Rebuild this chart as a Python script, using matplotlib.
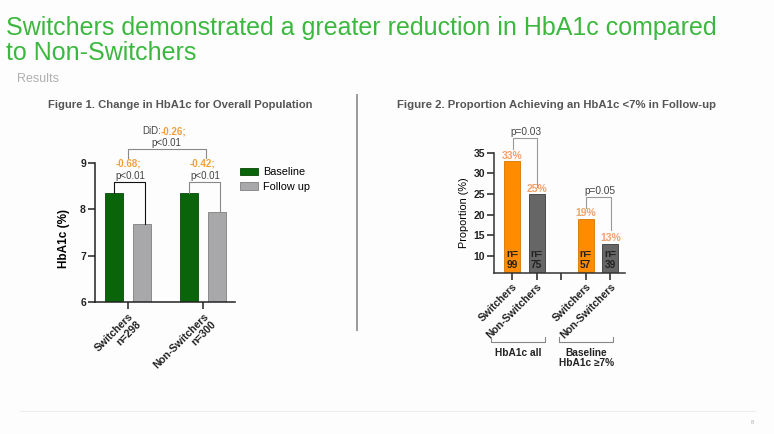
import matplotlib
matplotlib.use("Agg")
import matplotlib.pyplot as plt
from matplotlib.patches import Patch
from matplotlib.lines import Line2D
import matplotlib.transforms as mtrans

plt.rcParams['font.family'] = ['Liberation Sans', 'DejaVu Sans']

# ---------------- data ----------------
title_lines = ["Switchers demonstrated a greater reduction in HbA1c compared",
               "to Non-Switchers"]
subtitle = "Results"

fig1_title = "Figure 1. Change in HbA1c for Overall Population"
groups1 = ["Switchers\nn=298", "Non-Switchers\nn=300"]
baseline = [8.35, 8.35]
followup = [7.68, 7.94]
change_txt = ["-0.68;", "-0.42;"]
change_p = ["p<0.01", "p<0.01"]
did_txt = "-0.26;"
did_p = "p<0.01"
series1 = ["Baseline", "Follow up"]
yticks1 = [6, 7, 8, 9]

fig2_title = "Figure 2. Proportion Achieving an HbA1c <7% in Follow-up"
xlabels2 = ["Switchers", "Non-Switchers", "", "Switchers", "Non-Switchers"]
bar_pos2 = [0, 1, 3, 4]
prop = [33, 25, 19, 13]
pct_txt = ["33%", "25%", "19%", "13%"]
n_txt = ["99", "75", "57", "39"]
pvals2 = ["p=0.03", "p=0.05"]
group2 = ["HbA1c all", "Baseline\nHbA1c \u22657%"]
yticks2 = [10, 15, 20, 25, 30, 35]

# ---------------- style ----------------
GREEN_T = '#3cb83f'
GREEN = '#0a650a'
LGRAY = '#a8a8aa'
ORANGE = '#ff8c00'
DGRAY = '#666666'
ORTXT = '#f5a035'
PCTTXT = '#f2a26e'
TXT = '#444444'

W, H = 774, 434
fig = plt.figure(figsize=(W/100, H/100), dpi=100)
fig.patch.set_facecolor('#fdfdfe')

def fx(px): return px / W
def fy(py): return 1 - py / H

# main titles
t1 = fig.text(fx(6), fy(34.5), title_lines[0], fontsize=18, color=GREEN_T, va='baseline')
t2 = fig.text(fx(6), fy(60.5), title_lines[1], fontsize=18, color=GREEN_T, va='baseline')
fig.canvas.draw()
w = t1.get_window_extent().width
fs = 18 * 712 / w
t1.set_fontsize(fs); t2.set_fontsize(fs)
fig.text(fx(17), fy(81.5), subtitle, fontsize=9, color='#b0b0b0', va='baseline')

ft1 = fig.text(fx(180), fy(105), fig1_title, fontsize=7.3, fontweight='bold',
               color='#555555', ha='center', va='center')
ft2 = fig.text(fx(556.5), fy(105), fig2_title, fontsize=7.3, fontweight='bold',
               color='#555555', ha='center', va='center')
fig.canvas.draw()
ft1.set_fontsize(7.3 * 264 / ft1.get_window_extent().width)
ft2.set_fontsize(7.3 * 317 / ft2.get_window_extent().width)

# divider and footer
fig.add_artist(Line2D([fx(357), fx(357)], [fy(95), fy(330)], color='#9a9a9a', lw=1.4))
fig.add_artist(Line2D([fx(20), fx(755)], [fy(411), fy(411)], color='#ececf0', lw=0.8))
fig.text(fx(752), fy(423), "8", fontsize=4, color='#aaaaaa', ha='center', va='center')

# ---------------- Figure 1 ----------------
ax1 = fig.add_axes([fx(95), fy(302), 140 / W, 139 / H])
ax1.set_facecolor('none')
x1 = list(range(len(groups1)))
bw = 0.24
off = 0.187
ax1.bar([x - off for x in x1], baseline, width=bw, color=GREEN,
        edgecolor='#064806', linewidth=0.6, label=series1[0])
ax1.bar([x + off for x in x1], followup, width=bw, color=LGRAY,
        edgecolor='#7f7f7f', linewidth=0.6, label=series1[1])
ax1.set_ylim(6, 9)
ax1.set_xlim(-0.44, 1.427)
ax1.set_yticks(yticks1)
ax1.set_yticklabels([str(v) for v in yticks1], fontsize=7.5, fontweight='bold')
ax1.set_xticks(x1)
ax1.set_xticklabels(groups1, rotation=45, ha='right', rotation_mode='anchor',
                    fontsize=7.6, fontweight='bold', multialignment='right')
ax1.set_ylabel("HbA1c (%)", fontsize=8.5, fontweight='bold', labelpad=5)
ax1.yaxis.set_label_coords(-0.18, 0.46)
for s in ['top', 'right']:
    ax1.spines[s].set_visible(False)
for s in ['left', 'bottom']:
    ax1.spines[s].set_linewidth(1.1)
    ax1.spines[s].set_color('#222222')
ax1.tick_params(axis='both', length=5, width=1.1, pad=1.5, colors='#222222')

# brackets for change within group
br_col = ['#111111', '#888888']
for i, x in enumerate(x1):
    yb = 8.60
    xl = x - off
    xr = x + off + 0.04
    ax1.plot([xl, xl, xr, xr], [baseline[i] + 0.01, yb, yb, followup[i]],
             color=br_col[i], lw=0.8, clip_on=False)
    ax1.text(x, 8.99, change_txt[i], fontsize=7, fontweight='bold',
             color=ORTXT, ha='center', va='center', clip_on=False)
    ax1.text(x + 0.03, 8.72, change_p[i], fontsize=7, color=TXT,
             ha='center', va='center', clip_on=False)
# DiD bracket
yd = 9.30
ax1.plot([x1[0], x1[0], x1[1] + 0.04, x1[1] + 0.04], [9.10, yd, yd, 9.10],
         color='#888888', lw=0.8, clip_on=False)
ax1.text(0.44, 9.69, "DiD:", fontsize=7, color=TXT, ha='right', va='center', clip_on=False)
ax1.text(0.44, 9.69, did_txt, fontsize=7, fontweight='bold', color=ORTXT,
         ha='left', va='center', clip_on=False)
ax1.text(0.515, 9.44, did_p, fontsize=7, color=TXT, ha='center', va='center', clip_on=False)

handles = [Patch(facecolor=GREEN, edgecolor='#064806', linewidth=0.6),
           Patch(facecolor=LGRAY, edgecolor='#7f7f7f', linewidth=0.6)]
fig.legend(handles, series1, loc='upper left', bbox_to_anchor=(fx(237), fy(164)),
           frameon=False, fontsize=7.8, handlelength=1.6, handleheight=0.75,
           handletextpad=0.5, labelspacing=0.45, borderaxespad=0, borderpad=0.3)

# ---------------- Figure 2 ----------------
ax2 = fig.add_axes([fx(494), fy(272.6), 131 / W, (272.6 - 152.7) / H])
ax2.set_facecolor('none')
cols2 = [ORANGE, DGRAY, ORANGE, DGRAY]
edges2 = ['#d87400', '#3a3a3a', '#d87400', '#3a3a3a']
ax2.bar(bar_pos2, prop, width=0.65, color=cols2, edgecolor=edges2, linewidth=0.6)
ax2.set_ylim(6, 35)
ax2.set_xlim(-0.735, 4.6)
ax2.set_yticks(yticks2)
ax2.set_yticklabels([str(v) for v in yticks2], fontsize=7.5, fontweight='bold')
ax2.set_xticks(range(len(xlabels2)))
ax2.set_xticklabels(xlabels2, rotation=45, ha='right', rotation_mode='anchor',
                    fontsize=7.6, fontweight='bold')
ax2.set_ylabel("Proportion (%)", fontsize=7.8, labelpad=3)
for s in ['top', 'right']:
    ax2.spines[s].set_visible(False)
for s in ['left', 'bottom']:
    ax2.spines[s].set_linewidth(1.1)
    ax2.spines[s].set_color('#333333')
ax2.tick_params(axis='both', length=5, width=1.1, pad=1.5, colors='#222222')

for x, v, p, n in zip(bar_pos2, prop, pct_txt, n_txt):
    ax2.text(x, v + 1.3, p, fontsize=7.5, fontweight='bold', color=PCTTXT,
             ha='center', va='center', clip_on=False)
    ax2.text(x, 9.2, "n=\n" + n, fontsize=7.3, fontweight='bold', color='#222222',
             ha='center', va='center', linespacing=1.05)

# p-value brackets
pairs = [(0, 1), (2, 3)]
br_y = [38.6, 24.2]
left_end = [35.9, 21.6]
right_end = [26.8, 16.3]
for k, (a, b) in enumerate(pairs):
    xa, xb = bar_pos2[a] + 0.03, bar_pos2[b] + 0.03
    ax2.plot([xa, xa, xb, xb], [left_end[k], br_y[k], br_y[k], right_end[k]],
             color='#999999', lw=0.8, clip_on=False)
    ax2.text((xa + xb) / 2 + 0.03, br_y[k] + 1.5, pvals2[k], fontsize=7.3, color=TXT,
             ha='center', va='center', clip_on=False)

# group brackets below axis
trans = mtrans.blended_transform_factory(ax2.transData, ax2.transAxes)
g_ranges = [(bar_pos2[0] - 0.86, bar_pos2[1] + 0.35), (bar_pos2[2] - 1.08, bar_pos2[3] + 0.11)]
g_text_x = [0.23, 3.02]
for (xa, xb), lab, tx in zip(g_ranges, group2, g_text_x):
    ax2.plot([xa, xa, xb, xb], [-0.535, -0.576, -0.576, -0.535], color='#888888',
             lw=0.8, transform=trans, clip_on=False)
    ax2.text(tx, -0.625, lab, fontsize=7.3, fontweight='bold', color='#222222',
             ha='center', va='top', transform=trans, linespacing=1.1)

fig.savefig("out.png", dpi=100, facecolor=fig.get_facecolor())
